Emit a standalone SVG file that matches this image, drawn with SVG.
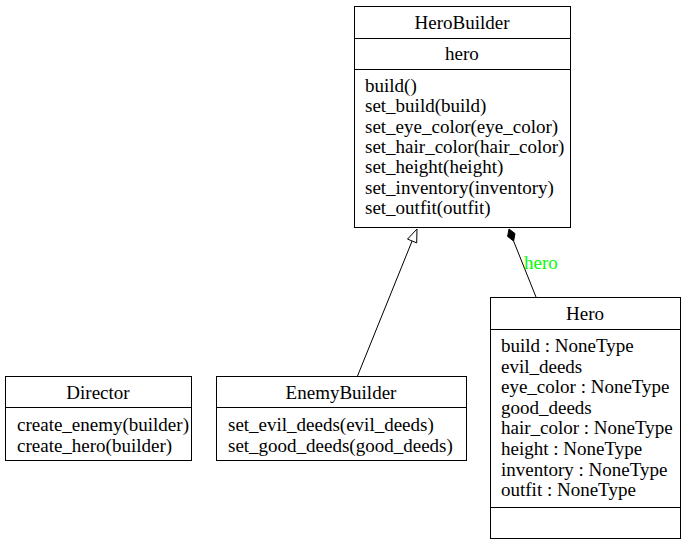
<svg xmlns="http://www.w3.org/2000/svg" width="686" height="545" viewBox="0 0 686 545">
<style>
.box{fill:#fff;stroke:#000;stroke-width:1}
.ln{stroke:#000;stroke-width:1;fill:none}
</style>
<rect width="686" height="545" fill="#fff"/>
<g id="HeroBuilder">
<rect class="box" x="354.5" y="6.5" width="216" height="221"/>
<line class="ln" x1="354.5" y1="38.5" x2="570.5" y2="38.5"/>
<line class="ln" x1="354.5" y1="69.5" x2="570.5" y2="69.5"/>
</g>
<g id="Hero">
<rect class="box" x="490.5" y="297.5" width="190" height="241"/>
<line class="ln" x1="490.5" y1="329.5" x2="680.5" y2="329.5"/>
<line class="ln" x1="490.5" y1="507.5" x2="680.5" y2="507.5"/>
</g>
<g id="Director">
<rect class="box" x="5.5" y="376.5" width="186" height="84"/>
<line class="ln" x1="5.5" y1="407.5" x2="191.5" y2="407.5"/>
</g>
<g id="EnemyBuilder">
<rect class="box" x="216.5" y="376.5" width="250" height="84"/>
<line class="ln" x1="216.5" y1="407.5" x2="466.5" y2="407.5"/>
</g>
<g id="connectors">
<line class="ln" x1="357.5" y1="376" x2="412.1" y2="241"/>
<polygon points="417,229 416.7,242.9 407.5,239.1" fill="#fff" stroke="#000"/>
<line class="ln" x1="536" y1="297" x2="513.6" y2="241.1"/>
<polygon points="509,229 515,233.6 513.6,241.1 507.6,236.4" fill="#000" stroke="#000"/>
</g>
<text x="462" y="29" font-family="Times New Roman" font-size="19" text-anchor="middle">HeroBuilder</text>
<text x="462" y="60" font-family="Times New Roman" font-size="19" text-anchor="middle">hero</text>
<text x="365" y="92" font-family="Times New Roman" font-size="19">build()</text>
<text x="365" y="112" font-family="Times New Roman" font-size="19">set_build(build)</text>
<text x="365" y="133" font-family="Times New Roman" font-size="19">set_eye_color(eye_color)</text>
<text x="365" y="153" font-family="Times New Roman" font-size="19">set_hair_color(hair_color)</text>
<text x="365" y="173" font-family="Times New Roman" font-size="19">set_height(height)</text>
<text x="365" y="194" font-family="Times New Roman" font-size="19">set_inventory(inventory)</text>
<text x="365" y="214" font-family="Times New Roman" font-size="19">set_outfit(outfit)</text>
<text x="585" y="320" font-family="Times New Roman" font-size="19" text-anchor="middle">Hero</text>
<text x="501" y="352" font-family="Times New Roman" font-size="19">build : NoneType</text>
<text x="501" y="373" font-family="Times New Roman" font-size="19">evil_deeds</text>
<text x="501" y="393" font-family="Times New Roman" font-size="19">eye_color : NoneType</text>
<text x="501" y="414" font-family="Times New Roman" font-size="19">good_deeds</text>
<text x="501" y="434" font-family="Times New Roman" font-size="19">hair_color : NoneType</text>
<text x="501" y="455" font-family="Times New Roman" font-size="19">height : NoneType</text>
<text x="501" y="476" font-family="Times New Roman" font-size="19">inventory : NoneType</text>
<text x="501" y="496" font-family="Times New Roman" font-size="19">outfit : NoneType</text>
<text x="98" y="399" font-family="Times New Roman" font-size="19" text-anchor="middle">Director</text>
<text x="17" y="431" font-family="Times New Roman" font-size="19">create_enemy(builder)</text>
<text x="17" y="452" font-family="Times New Roman" font-size="19">create_hero(builder)</text>
<text x="341" y="399" font-family="Times New Roman" font-size="19" text-anchor="middle">EnemyBuilder</text>
<text x="228" y="431" font-family="Times New Roman" font-size="19">set_evil_deeds(evil_deeds)</text>
<text x="228" y="452" font-family="Times New Roman" font-size="19">set_good_deeds(good_deeds)</text>
<text x="524" y="269" font-family="Times New Roman" font-size="19" fill="#00ff00">hero</text>
</svg>
